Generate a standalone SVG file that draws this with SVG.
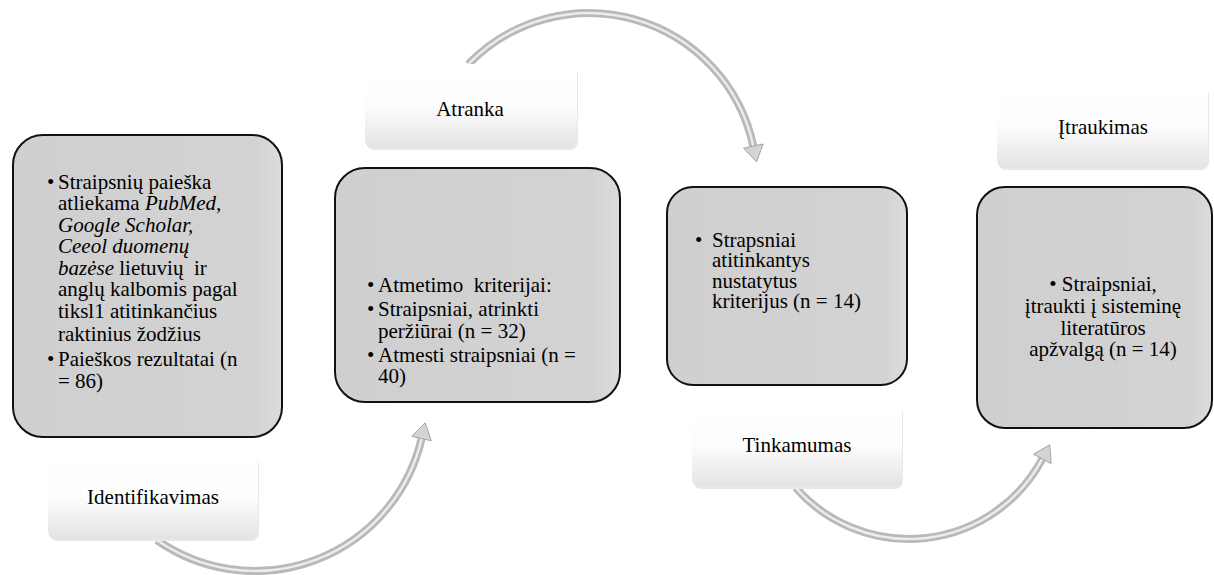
<svg xmlns="http://www.w3.org/2000/svg" width="1214" height="575" viewBox="0 0 1214 575">
<defs>
<linearGradient id="lbl" x1="0" y1="0" x2="0" y2="1">
<stop offset="0" stop-color="#ffffff"/>
<stop offset="0.5" stop-color="#fdfdfd"/>
<stop offset="1" stop-color="#e3e3e3"/>
</linearGradient>
<linearGradient id="box" x1="0" y1="0" x2="1" y2="0">
<stop offset="0" stop-color="#cfcfcf"/>
<stop offset="0.9" stop-color="#d3d3d3"/>
<stop offset="1" stop-color="#dcdcdc"/>
</linearGradient>
</defs>
<style>
text{font-family:'Liberation Serif','Tinos','DejaVu Serif','Noto Serif',serif;font-size:21px;fill:#000}
.t{white-space:pre}
.i{font-style:italic}
.lb{text-anchor:middle}
.box{fill:url(#box);stroke:#111;stroke-width:2}
.lab{fill:url(#lbl);stroke:none}
.sh{fill:#e9e9e9}
.band{fill:none;stroke:#b9b9b9;stroke-width:8;stroke-linecap:butt}
.hl{fill:none;stroke:#ececec;stroke-width:2.5}
.ah{fill:#d4d4d4;stroke:#a4a4a4;stroke-width:1}
</style>

<g id="connectors">
<path class="band" d="M 156.9,540.1 A 171 171 0 0 0 421.6,438.5"/>
<path class="hl" d="M 156.9,540.1 A 171 171 0 0 0 421.6,438.5"/>
<polygon class="ah" points="425.2,422.9 431.3,440.8 421.6,438.5 411.9,436.3"/>
<path class="band" d="M 468.2,64.3 A 168 168 0 0 1 753.3,146.1"/>
<path class="hl" d="M 468.2,64.3 A 168 168 0 0 1 753.3,146.1"/>
<polygon class="ah" points="756.6,161.8 763.1,144.0 753.3,146.1 743.5,148.2"/>
<path class="band" d="M 795.6,487.7 A 151 151 0 0 0 1042.3,458.9"/>
<path class="hl" d="M 795.6,487.7 A 151 151 0 0 0 1042.3,458.9"/>
<polygon class="ah" points="1049.8,444.8 1051.1,463.6 1042.3,458.9 1033.5,454.2"/>
</g>

<g id="label-identifikavimas">
<rect class="sh" x="49" y="457" width="210" height="84" rx="8"/>
<rect class="lab" x="48" y="455" width="210" height="84" rx="8"/>
<text class="lb" x="153" y="504" font-family="Liberation Serif, serif">Identifikavimas</text>
</g>
<g id="label-atranka">
<rect class="sh" x="366" y="66" width="212" height="84" rx="8"/>
<rect class="lab" x="365" y="64" width="212" height="84" rx="8"/>
<text class="lb" x="470" y="116">Atranka</text>
</g>
<g id="label-tinkamumas">
<rect class="sh" x="693" y="405" width="210" height="84" rx="8"/>
<rect class="lab" x="692" y="403" width="210" height="84" rx="8"/>
<text class="lb" x="797" y="452">Tinkamumas</text>
</g>
<g id="label-itraukimas">
<rect class="sh" x="998" y="87" width="211" height="83" rx="8"/>
<rect class="lab" x="997" y="85" width="211" height="83" rx="8"/>
<text class="lb" x="1103" y="134">Įtraukimas</text>
</g>

<g id="node-identifikavimas">
<rect class="box" x="13" y="135" width="269" height="302" rx="30"/>
<text class="t" x="47" y="189">•</text>
<text class="t" x="58" y="189">Straipsnių paieška</text>
<text class="t" x="58" y="210">atliekama <tspan class="i">PubMed,</tspan></text>
<text class="t i" x="58" y="231.5">Google Scholar,</text>
<text class="t i" x="58" y="253">Ceeol duomenų</text>
<text class="t" x="58" y="274.5"><tspan class="i">bazėse</tspan> lietuvių  ir</text>
<text class="t" x="58" y="296">anglų kalbomis pagal</text>
<text class="t" x="58" y="318">tiksl1 atitinkančius</text>
<text class="t" x="58" y="340.5">raktinius žodžius</text>
<text class="t" x="47" y="366">•</text>
<text class="t" x="58" y="366">Paieškos rezultatai (n</text>
<text class="t" x="58" y="387.5">= 86)</text>
</g>

<g id="node-atranka">
<rect class="box" x="335" y="168" width="285" height="234" rx="30"/>
<text class="t" x="367" y="292">•</text>
<text class="t" x="378" y="292">Atmetimo  kriterijai:</text>
<text class="t" x="367" y="316">•</text>
<text class="t" x="378" y="316">Straipsniai, atrinkti</text>
<text class="t" x="378" y="338">peržiūrai (n = 32)</text>
<text class="t" x="367" y="361.5">•</text>
<text class="t" x="378" y="361.5">Atmesti straipsniai (n =</text>
<text class="t" x="378" y="383">40)</text>
</g>

<g id="node-tinkamumas">
<rect class="box" x="667" y="187" width="240" height="198" rx="26"/>
<text class="t" x="695" y="246.5">•</text>
<text class="t" x="712" y="246.5">Strapsniai</text>
<text class="t" x="712" y="267">atitinkantys</text>
<text class="t" x="712" y="287.5">nustatytus</text>
<text class="t" x="712" y="308">kriterijus (n = 14)</text>
</g>

<g id="node-itraukimas">
<rect class="box" x="977" y="187" width="235" height="241" rx="28"/>
<text class="lb" x="1103" y="291">• Straipsniai,</text>
<text class="lb" x="1103" y="313">įtraukti į sisteminę</text>
<text class="lb" x="1103" y="334.5">literatūros</text>
<text class="lb" x="1103" y="356">apžvalgą (n = 14)</text>
</g>
</svg>
